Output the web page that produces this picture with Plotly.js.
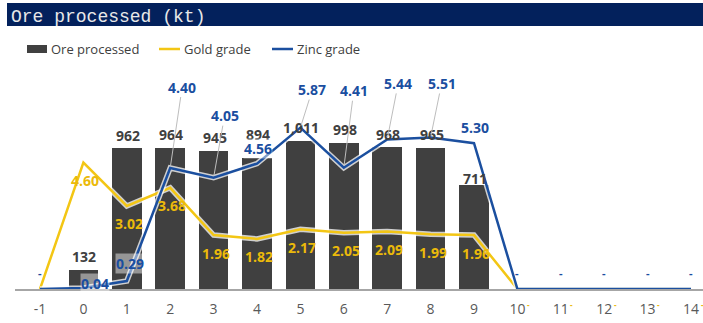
<!DOCTYPE html>
<html>
<head>
<meta charset="utf-8">
<script src="https://cdn.plot.ly/plotly-3.0.1.min.js"></script>
<style>
html,body{margin:0;padding:0;background:#fff;}
#chart{width:703px;height:323px;}
</style>
</head>
<body>
<div id="chart"></div>
<script>
// ---- data ----
const categories = [-1, 0, 1, 2, 3, 4, 5, 6, 7, 8, 9, 10, 11, 12, 13, 14];
const tickLabels = ["-1", "0", "1", "2", "3", "4", "5", "6", "7", "8", "9", "10", "11", "12", "13", "14"];
const oreProcessed = [0, 132, 962, 964, 945, 894, 1011, 998, 968, 965, 711, 0, 0, 0, 0, 0];
const goldGrade = [0, 4.60, 3.02, 3.68, 1.96, 1.82, 2.17, 2.05, 2.09, 1.99, 1.96, 0, 0, 0, 0, 0];
const zincGrade = [0, 0.04, 0.29, 4.40, 4.05, 4.56, 5.87, 4.41, 5.44, 5.51, 5.30, 0, 0, 0, 0, 0];
const seriesNames = ["Ore processed", "Gold grade", "Zinc grade"];
const chartTitle = "Ore processed (kt)";

// ---- styles / layout ----
const W = 703, H = 323;
const M = {l: 15, r: 0, t: 60, b: 34};
const PW = W - M.l - M.r, PH = H - M.t - M.b;
const BAR_COLOR = "#404040", GOLD = "#F3C614", GOLD_TXT = "#EBBA0A", ZINC = "#1B4F9F", ZINC_TXT = "#1A4EA0";
const LABEL_FONT = "Open Sans, Noto Sans, sans-serif";
const px = x => (x - M.l) / PW;         // pixel -> paper x
const py = y => (M.t + PH - y) / PH;    // pixel -> paper y

// label placement tweaks (pixel offsets from the data point), keyed by category
const zincLabelPlacement = {
  "0": [12, -4, false], "1": [3, -18, false], "2": [12, -81, true], "3": [11, -62, true],
  "4": [1, -15, false], "5": [12, -38, true], "6": [10, -77, true], "7": [11, -56, true],
  "8": [11, -54, true], "9": [1, -16, false]
};
const barLabelLift = {"4": 24, "9": 6};

const fmtGrade = v => v === 0 ? "-" : v.toFixed(2);
const fmtOre = v => v.toLocaleString("en-US");

const traces = [
  {type: "bar", x: categories, y: oreProcessed, name: seriesNames[0], marker: {color: BAR_COLOR}, width: 0.68, yaxis: "y", hoverinfo: "skip"},
  {type: "scatter", mode: "lines", x: categories, y: goldGrade, yaxis: "y2", line: {color: "rgba(255,255,255,0.75)", width: 5.5}, showlegend: false, hoverinfo: "skip"},
  {type: "scatter", mode: "lines", x: categories, y: goldGrade, name: seriesNames[1], yaxis: "y2", line: {color: GOLD, width: 2.5}},
  {type: "scatter", mode: "lines", x: categories, y: zincGrade, yaxis: "y2", line: {color: "rgba(255,255,255,0.75)", width: 5.5}, showlegend: false, hoverinfo: "skip"},
  {type: "scatter", mode: "lines", x: categories, y: zincGrade, name: seriesNames[2], yaxis: "y2", line: {color: ZINC, width: 2.5}}
];

const annotations = [];
// bar value labels
categories.forEach((c, i) => {
  const v = oreProcessed[i];
  if (!v) return;
  const key = String(c);
  const lift = barLabelLift[key] !== undefined ? barLabelLift[key] : 13;
  annotations.push({x: c, y: v, xref: "x", yref: "y", text: fmtOre(v), showarrow: false,
    yshift: lift, xshift: 1, font: {family: LABEL_FONT, size: 14, color: "#404040", weight: 700}});
});
// gold labels (below the points; zero values sit beside the tick labels)
categories.forEach((c, i) => {
  const v = goldGrade[i];
  const zero = v === 0;
  if (zero && c < 0) return;
  annotations.push({x: c, y: v, xref: "x", yref: "y2", text: fmtGrade(v), showarrow: false,
    yshift: zero ? -15 : -18, xshift: zero ? 11 : 2,
    font: {family: LABEL_FONT, size: zero ? 8 : 14, color: GOLD_TXT, weight: 700}});
});
// zinc labels
categories.forEach((c, i) => {
  const v = zincGrade[i];
  const zero = v === 0;
  const p = zincLabelPlacement[String(c)] || [0, -17, false];
  const base = {x: c, y: v, xref: "x", yref: "y2", text: fmtGrade(v),
    font: {family: LABEL_FONT, size: zero ? 11 : 14, color: ZINC_TXT, weight: 700},
    bgcolor: zero ? "rgba(0,0,0,0)" : "rgba(255,255,255,0.45)", borderpad: 0};
  if (p[2]) {
    annotations.push(Object.assign(base, {showarrow: true, ax: p[0], ay: p[1], arrowhead: 0,
      arrowwidth: 1, arrowcolor: "#BDBDBD", standoff: 2}));
  } else {
    annotations.push(Object.assign(base, {showarrow: false, xshift: p[0], yshift: -p[1]}));
  }
});
// custom legend
const legendItems = [
  {x0: 27, x1: 47, tx: 49, kind: "rect", color: BAR_COLOR},
  {x0: 159, x1: 180, tx: 182, kind: "line", color: GOLD},
  {x0: 272, x1: 293, tx: 295, kind: "line", color: ZINC}
];
const shapes = [
  {type: "rect", xref: "paper", yref: "paper", x0: px(7), x1: px(703), y0: py(26), y1: py(3),
    fillcolor: "#03215C", line: {width: 0}, layer: "below"}
];
legendItems.forEach((it, k) => {
  if (it.kind === "rect") {
    shapes.push({type: "rect", xref: "paper", yref: "paper", x0: px(it.x0), x1: px(it.x1), y0: py(53), y1: py(45),
      fillcolor: it.color, line: {width: 0}});
  } else {
    shapes.push({type: "line", xref: "paper", yref: "paper", x0: px(it.x0), x1: px(it.x1), y0: py(49), y1: py(49),
      line: {color: it.color, width: 2.5}});
  }
  annotations.push({xref: "paper", yref: "paper", x: px(it.tx), y: py(49), xanchor: "left", yanchor: "middle",
    text: seriesNames[k], showarrow: false, font: {family: LABEL_FONT, size: 13, color: "#404040"}});
});

const layout = {
  width: W, height: H,
  margin: M,
  paper_bgcolor: "#ffffff", plot_bgcolor: "rgba(0,0,0,0)",
  showlegend: false,
  title: {text: chartTitle, xref: "container", yref: "container", x: 11 / W, xanchor: "left",
    y: 1 - 16 / H, yanchor: "middle", font: {family: "Liberation Mono, Courier New, monospace", size: 18, color: "#E8E8E8"}},
  bargap: 0,
  xaxis: {type: "linear", range: [-1 - 25 / 43.4, 14 + 12 / 43.4], tickmode: "array", tickvals: categories, ticktext: tickLabels,
    showgrid: false, zeroline: false, showline: true, linecolor: "#A6A6A6", linewidth: 1.5, ticks: "", ticklabelstandoff: 7,
    tickfont: {family: LABEL_FONT, size: 14, color: "#595959"}, automargin: false, fixedrange: true},
  yaxis: {range: [0, PH / 0.1465], visible: false, showgrid: false, zeroline: false, fixedrange: true},
  yaxis2: {range: [0, PH / 27.5], overlaying: "y", side: "right", visible: false, showgrid: false, zeroline: false, fixedrange: true},
  annotations: annotations,
  shapes: shapes
};

Plotly.newPlot("chart", traces, layout, {displayModeBar: false, staticPlot: true});
</script>
</body>
</html>
